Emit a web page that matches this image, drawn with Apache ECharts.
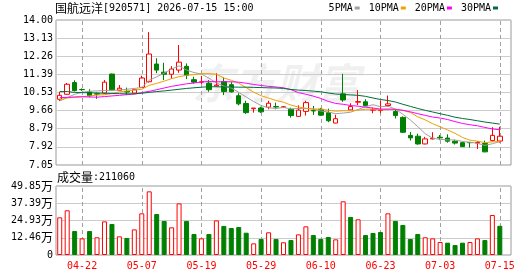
<!DOCTYPE html>
<html>
<head>
<meta charset="utf-8">
<title>国航远洋 日K</title>
<script src="https://cdn.jsdelivr.net/npm/echarts@6/dist/echarts.min.js"></script>
<style>
  html, body { margin: 0; padding: 0; background: #ffffff; }
  #chart { width: 530px; height: 276px; }
</style>
</head>
<body>
<div id="chart"></div>
<script>
// trading days shown on the chart
const dates = [
  "04-17", "04-20", "04-21", "04-22", "04-23", "04-24", "04-27", "04-28", "04-29", "04-30",
  "05-06", "05-07", "05-08", "05-11", "05-12", "05-13", "05-14", "05-15", "05-18", "05-19",
  "05-20", "05-21", "05-22", "05-25", "05-26", "05-27", "05-28", "05-29", "06-01", "06-02",
  "06-03", "06-04", "06-05", "06-08", "06-09", "06-10", "06-11", "06-12", "06-15", "06-16",
  "06-17", "06-18", "06-22", "06-23", "06-24", "06-25", "06-26", "06-29", "06-30", "07-01",
  "07-02", "07-03", "07-06", "07-07", "07-08", "07-09", "07-10", "07-13", "07-14", "07-15"
];
const labelDates = ["04-22", "05-07", "05-19", "05-29", "06-10", "06-23", "07-03", "07-15"];

const opens = [
  10.20, 10.44, 11.00, 10.67, 10.55, 10.46, 10.50, 11.41, 10.63, 10.57,
  10.50, 10.77, 11.04, 11.89, 11.50, 11.40, 11.60, 11.78, 11.14, 11.02,
  10.97, 10.84, 11.05, 10.90, 10.37, 10.00, 9.75, 9.78, 9.82, 9.85,
  9.82, 9.72, 9.38, 9.62, 9.66, 9.72, 9.56, 9.06, 10.46, 9.69,
  10.06, 10.08, 9.68, 9.66, 9.90, 9.61, 9.33, 8.47, 8.43, 8.06,
  8.30, 8.38, 8.34, 8.19, 8.12, 8.13, 8.10, 8.08, 8.22, 8.20
];
const closes = [
  10.39, 10.92, 10.62, 10.66, 10.37, 10.45, 11.02, 10.65, 10.73, 10.55,
  10.66, 11.22, 12.37, 11.60, 11.40, 11.65, 11.98, 11.35, 11.02, 11.04,
  10.66, 10.88, 10.57, 10.56, 9.98, 9.56, 9.78, 9.60, 10.01, 9.83,
  9.84, 9.42, 9.68, 10.04, 9.64, 9.44, 9.17, 9.27, 10.17, 9.85,
  10.09, 9.89, 9.70, 9.67, 9.98, 9.42, 8.62, 8.35, 8.06, 8.30,
  8.33, 8.35, 8.19, 8.10, 7.93, 8.12, 8.13, 7.68, 8.47, 8.43
];
const lows = [
  10.12, 10.42, 10.57, 10.60, 10.30, 10.22, 10.45, 10.62, 10.60, 10.40,
  10.47, 10.74, 11.00, 11.45, 11.12, 11.18, 11.47, 11.17, 10.95, 10.93,
  10.56, 10.80, 10.40, 10.52, 9.91, 9.50, 9.56, 9.54, 9.72, 9.72,
  9.79, 9.32, 9.37, 9.42, 9.45, 9.40, 9.10, 9.05, 10.08, 9.68,
  9.92, 9.85, 9.53, 9.53, 9.84, 9.28, 8.58, 8.22, 8.02, 8.04,
  8.27, 8.24, 8.12, 8.03, 7.92, 7.88, 7.82, 7.66, 8.17, 8.12
];
const highs = [
  10.56, 10.98, 11.11, 10.72, 10.68, 10.52, 11.12, 11.43, 10.88, 10.76,
  10.70, 11.33, 13.42, 12.17, 11.95, 11.79, 12.80, 11.92, 11.28, 11.32,
  11.12, 11.45, 11.25, 11.02, 10.49, 10.13, 9.78, 9.84, 10.13, 10.04,
  9.87, 9.80, 9.91, 10.13, 9.88, 9.79, 9.75, 9.46, 11.42, 10.01,
  10.64, 10.20, 9.80, 10.13, 10.38, 9.69, 9.38, 8.63, 8.55, 8.40,
  8.62, 8.49, 8.52, 8.25, 8.16, 8.14, 8.20, 8.22, 8.86, 8.88
];
const volumes = [
  272000, 323000, 173000, 120000, 173000, 128000, 243000, 224000, 135000, 123000,
  185000, 301000, 460000, 296000, 246000, 200000, 373000, 246000, 152000, 120000,
  152000, 250000, 210000, 195000, 202000, 161000, 84000, 116000, 164000, 116000,
  92000, 108000, 149000, 207000, 144000, 116000, 130000, 113000, 388000, 275000,
  258000, 144000, 159000, 166000, 301000, 246000, 217000, 116000, 152000, 128000,
  120000, 94000, 89000, 72000, 89000, 94000, 120000, 108000, 289000, 211060
];

const ma5 = [
  10.12, 10.28, 10.44, 10.53, 10.59, 10.60, 10.62, 10.63, 10.64, 10.68,
  10.72, 10.76, 11.11, 11.28, 11.45, 11.65, 11.80, 11.60, 11.48, 11.41,
  11.21, 10.99, 10.83, 10.74, 10.53, 10.31, 10.09, 9.90, 9.79, 9.76,
  9.81, 9.74, 9.76, 9.76, 9.72, 9.64, 9.59, 9.51, 9.54, 9.58,
  9.71, 9.85, 9.94, 9.84, 9.87, 9.73, 9.48, 9.21, 8.89, 8.55,
  8.33, 8.28, 8.25, 8.25, 8.18, 8.14, 8.09, 7.99, 8.07, 8.17
];
const ma10 = [
  10.18, 10.26, 10.30, 10.32, 10.36, 10.40, 10.42, 10.47, 10.56, 10.60,
  10.64, 10.68, 10.87, 10.96, 11.07, 11.19, 11.28, 11.35, 11.38, 11.43,
  11.43, 11.40, 11.22, 11.11, 10.97, 10.76, 10.54, 10.37, 10.26, 10.14,
  10.06, 9.92, 9.83, 9.77, 9.74, 9.73, 9.67, 9.63, 9.65, 9.65,
  9.68, 9.72, 9.73, 9.69, 9.72, 9.72, 9.67, 9.57, 9.36, 9.21,
  9.03, 8.88, 8.73, 8.57, 8.37, 8.24, 8.19, 8.12, 8.16, 8.17
];
const ma20 = [
  10.28, 10.29, 10.31, 10.32, 10.31, 10.30, 10.33, 10.36, 10.39, 10.42,
  10.45, 10.52, 10.58, 10.66, 10.74, 10.82, 10.88, 10.94, 10.98, 11.03,
  11.05, 11.04, 11.04, 11.04, 11.02, 10.97, 10.91, 10.86, 10.82, 10.79,
  10.75, 10.66, 10.52, 10.44, 10.35, 10.24, 10.10, 10.00, 9.96, 9.90,
  9.87, 9.82, 9.78, 9.73, 9.73, 9.72, 9.67, 9.60, 9.51, 9.43,
  9.35, 9.30, 9.23, 9.13, 9.04, 8.98, 8.93, 8.85, 8.78, 8.74
];
const ma30 = [
  10.57, 10.57, 10.53, 10.52, 10.51, 10.50, 10.49, 10.48, 10.47, 10.46,
  10.46, 10.49, 10.53, 10.57, 10.60, 10.64, 10.68, 10.72, 10.75, 10.78,
  10.80, 10.80, 10.79, 10.79, 10.78, 10.78, 10.77, 10.76, 10.75, 10.74,
  10.72, 10.67, 10.64, 10.62, 10.59, 10.56, 10.50, 10.45, 10.43, 10.41,
  10.39, 10.34, 10.26, 10.19, 10.14, 10.07, 9.96, 9.86, 9.76, 9.67,
  9.59, 9.51, 9.43, 9.34, 9.28, 9.23, 9.17, 9.11, 9.06, 9.01
];

const priceTicks = [7.05, 7.92, 8.79, 9.66, 10.53, 11.39, 12.26, 13.13, 14.00];
const volumeTicks = [0, 124600, 249300, 373900, 498500];

const UP = "#ff0000";
const DOWN = "#008000";
const MONO = "DejaVu Sans Mono";
const CJK = "Noto Sans CJK SC";

// one empty slot after the last day, like the source chart
const slots = dates.concat([""]);

const candles = dates.map(function (d, i) {
  return [opens[i], closes[i], lows[i], highs[i]];
});

// volume colour follows close vs previous close
const volumeBars = volumes.map(function (v, i) {
  const ref = i > 0 ? closes[i - 1] : opens[i];
  const up = closes[i] >= ref;
  return {
    value: v,
    itemStyle: up
      ? { color: "#ffffff", borderColor: UP, borderWidth: 1 }
      : { color: DOWN, borderColor: DOWN, borderWidth: 1 }
  };
});

function showDate(index, value) {
  return labelDates.indexOf(value) >= 0;
}

// dashed vertical guides at the labelled days
function dateGuides() {
  return {
    silent: true,
    z: 1,
    symbol: ["none", "none"],
    label: { show: false },
    lineStyle: { color: "#a0a0a0", type: [4, 3], width: 1, opacity: 1 },
    data: labelDates.map(function (d) { return { xAxis: dates.indexOf(d) }; })
  };
}

const plain = { fontWeight: "normal", color: "#000000" };

const chart = echarts.init(document.getElementById("chart"), null, { renderer: "canvas" });

chart.setOption({
  animation: false,
  backgroundColor: "#ffffff",
  title: [
    {
      text: "{c|国航远洋}{a|[920571] 2026-07-15 15:00}",
      left: 55,
      top: 2,
      padding: 0,
      textStyle: {
        fontWeight: "normal",
        rich: {
          c: Object.assign({ fontFamily: CJK, fontSize: 12 }, plain),
          a: Object.assign({ fontFamily: MONO, fontSize: 10 }, plain)
        }
      }
    },
    {
      text: "{c|成交量}{a|:211060}",
      left: 57,
      top: 171,
      padding: 0,
      textStyle: {
        fontWeight: "normal",
        rich: {
          c: Object.assign({ fontFamily: CJK, fontSize: 12 }, plain),
          a: Object.assign({ fontFamily: MONO, fontSize: 10 }, plain)
        }
      }
    }
  ],
  legend: {
    right: 32,
    top: 3,
    padding: 0,
    align: "right",
    icon: "rect",
    itemWidth: 5,
    itemHeight: 3,
    itemGap: 9,
    selectedMode: false,
    textStyle: { fontFamily: MONO, fontSize: 10, color: "#000000", padding: [0, -3, 0, 0] },
    data: ["5PMA", "10PMA", "20PMA", "30PMA"]
  },
  graphic: [
    {
      type: "text",
      left: 192,
      top: 62,
      z: -1,
      silent: true,
      style: {
        text: "东方财富",
        font: "italic bold 42px 'Noto Sans CJK SC'",
        fill: "rgba(0,0,0,0.06)"
      }
    }
  ],
  grid: [
    { left: 56, top: 20, width: 455, height: 145, show: true, borderColor: "#999999", borderWidth: 1, backgroundColor: "transparent" },
    { left: 56, top: 186, width: 455, height: 69, show: true, borderColor: "#999999", borderWidth: 1, backgroundColor: "transparent" }
  ],
  xAxis: [
    {
      type: "category",
      gridIndex: 0,
      data: slots,
      boundaryGap: true,
      axisLine: { show: false },
      axisTick: { show: false },
      axisLabel: { show: false },
      splitLine: { show: false }
    },
    {
      type: "category",
      gridIndex: 1,
      data: slots,
      boundaryGap: true,
      axisLine: { show: false },
      axisTick: { show: false },
      axisLabel: {
        interval: showDate,
        color: UP,
        fontFamily: MONO,
        fontSize: 10,
        margin: 6
      },
      splitLine: { show: false }
    }
  ],
  yAxis: [
    {
      type: "value",
      gridIndex: 0,
      min: 7.05,
      max: 14.0,
      axisLine: { show: false },
      axisTick: { show: false, customValues: priceTicks },
      axisLabel: {
        customValues: priceTicks,
        formatter: function (v) { return v.toFixed(2); },
        fontFamily: MONO,
        fontSize: 10,
        color: "#000000",
        margin: 3
      },
      splitLine: { show: true, lineStyle: { color: "#cccccc", width: 1 } }
    },
    {
      type: "value",
      gridIndex: 1,
      min: 0,
      max: 498500,
      axisLine: { show: false },
      axisTick: { show: false, customValues: volumeTicks },
      axisLabel: {
        customValues: volumeTicks,
        formatter: function (v) {
          if (v === 0) return "{n|0}";
          return "{n|" + (v / 10000).toFixed(2) + "}{w|万}";
        },
        rich: {
          n: { fontFamily: MONO, fontSize: 10, color: "#000000" },
          w: { fontFamily: CJK, fontSize: 12, color: "#000000" }
        },
        margin: 3
      },
      splitLine: { show: true, lineStyle: { color: "#cccccc", width: 1 } }
    }
  ],
  series: [
    {
      name: "K",
      type: "candlestick",
      xAxisIndex: 0,
      yAxisIndex: 0,
      barWidth: 5,
      data: candles,
      itemStyle: {
        color: "#ffffff",
        color0: DOWN,
        borderColor: UP,
        borderColor0: DOWN,
        borderWidth: 1
      },
      markLine: dateGuides()
    },
    { name: "5PMA", type: "line", xAxisIndex: 0, yAxisIndex: 0, data: ma5, symbol: "none", color: "#a0a0a0", lineStyle: { width: 1 } },
    { name: "10PMA", type: "line", xAxisIndex: 0, yAxisIndex: 0, data: ma10, symbol: "none", color: "#f0a000", lineStyle: { width: 1 } },
    { name: "20PMA", type: "line", xAxisIndex: 0, yAxisIndex: 0, data: ma20, symbol: "none", color: "#ff00ff", lineStyle: { width: 1 } },
    { name: "30PMA", type: "line", xAxisIndex: 0, yAxisIndex: 0, data: ma30, symbol: "none", color: "#006f3c", lineStyle: { width: 1 } },
    {
      name: "成交量",
      type: "bar",
      xAxisIndex: 1,
      yAxisIndex: 1,
      barWidth: 5,
      data: volumeBars,
      markLine: dateGuides()
    }
  ]
});
</script>
</body>
</html>
